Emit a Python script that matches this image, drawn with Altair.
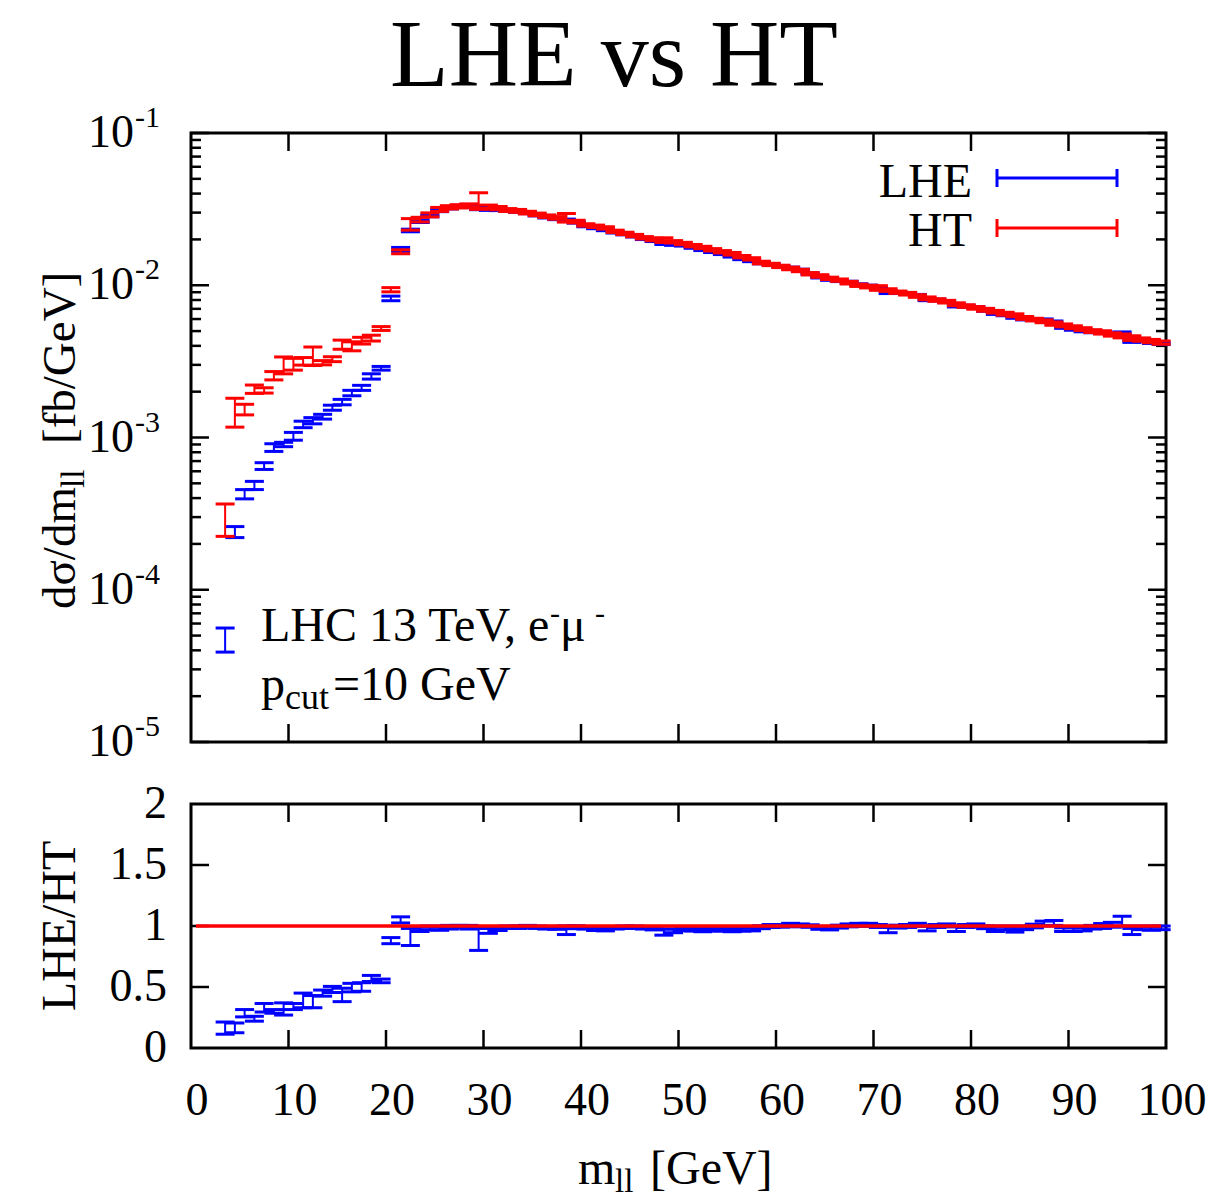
import altair as alt
import pandas as pd

# ---------------- data ----------------
m_ll = [b + 0.5 for b in range(3, 100)]  # bin centres 3.5 ... 99.5 GeV

ht = [2.95e-4, 1.49e-3, 1.53e-3, 2.08e-3, 2.04e-3, 2.55e-3, 3.0e-3, 3.04e-3, 3.17e-3, 3.45e-3,
      3.1e-3, 3.27e-3, 4.08e-3, 3.98e-3, 4.33e-3, 4.5e-3, 5.2e-3, 9.35e-3, 1.66e-2, 2.52e-2,
      2.7e-2, 2.9e-2, 3.15e-2, 3.25e-2, 3.3e-2, 3.35e-2, 3.6e-2, 3.28e-2, 3.21e-2, 3.12e-2,
      3.08e-2, 3.0e-2, 2.92e-2, 2.84e-2, 2.77e-2, 2.78e-2, 2.62e-2, 2.49e-2, 2.44e-2, 2.38e-2,
      2.26e-2, 2.19e-2, 2.12e-2, 2.05e-2, 2.0e-2, 1.98e-2, 1.93e-2, 1.88e-2, 1.82e-2, 1.77e-2,
      1.71e-2, 1.66e-2, 1.61e-2, 1.54e-2, 1.49e-2, 1.41e-2, 1.37e-2, 1.33e-2, 1.29e-2, 1.25e-2,
      1.19e-2, 1.15e-2, 1.11e-2, 1.08e-2, 1.04e-2, 1.0e-2, 9.8e-3, 9.6e-3, 9.3e-3, 9.0e-3,
      8.8e-3, 8.5e-3, 8.2e-3, 8.0e-3, 7.8e-3, 7.5e-3, 7.3e-3, 7.1e-3, 6.9e-3, 6.7e-3,
      6.5e-3, 6.35e-3, 6.1e-3, 5.95e-3, 5.8e-3, 5.6e-3, 5.45e-3, 5.3e-3, 5.15e-3, 5.0e-3,
      4.9e-3, 4.75e-3, 4.65e-3, 4.5e-3, 4.4e-3, 4.3e-3, 4.2e-3]
ht_relerr = [0.24, 0.215, 0.08, 0.063, 0.04, 0.063, 0.127, 0.089, 0.057, 0.139,
             0.032, 0.037, 0.069, 0.068, 0.051, 0.044, 0.029, 0.032, 0.03, 0.087,
             0.035, 0.03, 0.03, 0.025, 0.025, 0.022, 0.125, 0.025, 0.025, 0.022,
             0.022, 0.02, 0.02, 0.02, 0.02, 0.065, 0.02, 0.018, 0.018, 0.018,
             0.018, 0.018, 0.018, 0.018, 0.02, 0.035, 0.018, 0.018, 0.018, 0.018,
             0.018, 0.018, 0.02, 0.018, 0.018, 0.02, 0.018, 0.018, 0.02, 0.018,
             0.018, 0.02, 0.018, 0.018, 0.02, 0.018, 0.02, 0.035, 0.02, 0.018,
             0.02, 0.02, 0.022, 0.02, 0.02, 0.022, 0.02, 0.02, 0.022, 0.02,
             0.022, 0.022, 0.022, 0.02, 0.022, 0.025, 0.022, 0.022, 0.022, 0.022,
             0.025, 0.025, 0.03, 0.035, 0.025, 0.025, 0.025]

lhe = [4.75e-5, 2.4e-4, 4.25e-4, 4.85e-4, 6.5e-4, 8.6e-4, 9.0e-4, 1.02e-3, 1.22e-3, 1.29e-3,
       1.37e-3, 1.57e-3, 1.71e-3, 1.96e-3, 2.12e-3, 2.52e-3, 2.85e-3, 8.2e-3, 1.72e-2, 2.29e-2,
       2.63e-2, 2.86e-2, 3.09e-2, 3.22e-2, 3.28e-2, 3.32e-2, 3.2e-2, 3.15e-2, 3.13e-2, 3.09e-2,
       3.05e-2, 2.99e-2, 2.89e-2, 2.80e-2, 2.73e-2, 2.68e-2, 2.59e-2, 2.45e-2, 2.38e-2, 2.31e-2,
       2.23e-2, 2.17e-2, 2.10e-2, 2.02e-2, 1.96e-2, 1.88e-2, 1.85e-2, 1.83e-2, 1.77e-2, 1.71e-2,
       1.66e-2, 1.61e-2, 1.55e-2, 1.49e-2, 1.45e-2, 1.40e-2, 1.37e-2, 1.33e-2, 1.30e-2, 1.26e-2,
       1.19e-2, 1.13e-2, 1.09e-2, 1.07e-2, 1.05e-2, 1.01e-2, 9.9e-3, 9.6e-3, 9.0e-3, 8.95e-3,
       8.8e-3, 8.6e-3, 8.04e-3, 8.0e-3, 7.84e-3, 7.31e-3, 7.3e-3, 7.14e-3, 6.83e-3, 6.53e-3,
       6.40e-3, 6.16e-3, 6.01e-3, 5.95e-3, 5.92e-3, 5.74e-3, 5.29e-3, 5.14e-3, 5.02e-3, 4.95e-3,
       4.9e-3, 4.80e-3, 4.84e-3, 4.30e-3, 4.33e-3, 4.21e-3, 4.14e-3]
lhe_relerr = [0.18, 0.083, 0.07, 0.062, 0.051, 0.058, 0.033, 0.059, 0.049, 0.047,
              0.036, 0.038, 0.041, 0.041, 0.038, 0.04, 0.028, 0.035, 0.03, 0.02,
              0.018, 0.015, 0.015, 0.015, 0.012, 0.015, 0.02, 0.015, 0.012, 0.012,
              0.012, 0.012, 0.012, 0.012, 0.012, 0.015, 0.012, 0.012, 0.012, 0.012,
              0.012, 0.012, 0.012, 0.012, 0.012, 0.015, 0.012, 0.012, 0.012, 0.012,
              0.012, 0.012, 0.012, 0.012, 0.015, 0.012, 0.012, 0.012, 0.012, 0.012,
              0.012, 0.012, 0.012, 0.012, 0.012, 0.012, 0.012, 0.012, 0.02, 0.012,
              0.012, 0.012, 0.015, 0.012, 0.012, 0.015, 0.012, 0.012, 0.012, 0.015,
              0.015, 0.015, 0.015, 0.015, 0.015, 0.015, 0.015, 0.015, 0.015, 0.015,
              0.015, 0.015, 0.02, 0.02, 0.015, 0.015, 0.015]

ratio = [0.163, 0.165, 0.285, 0.24, 0.33, 0.30, 0.32, 0.34, 0.39, 0.38,
         0.45, 0.48, 0.435, 0.495, 0.50, 0.57, 0.55, 0.88, 1.05, 0.91,
         0.975, 0.985, 0.98, 0.99, 0.995, 0.99, 0.89, 0.96, 0.975, 0.99,
         0.99, 0.995, 0.99, 0.985, 0.985, 0.965, 0.99, 0.985, 0.975, 0.97,
         0.985, 0.99, 0.99, 0.985, 0.98, 0.95, 0.96, 0.975, 0.97, 0.965,
         0.97, 0.97, 0.965, 0.97, 0.975, 0.99, 1.0, 1.0, 1.01, 1.005,
         1.0, 0.985, 0.98, 0.995, 1.005, 1.01, 1.01, 1.0, 0.97, 0.995,
         1.0, 1.01, 0.98, 1.0, 1.005, 0.975, 1.0, 1.005, 0.99, 0.975,
         0.985, 0.97, 0.985, 1.0, 1.02, 1.025, 0.97, 0.97, 0.975, 0.99,
         1.0, 1.01, 1.04, 0.955, 0.985, 0.98, 0.985]
ratio_err = [0.05, 0.04, 0.03, 0.02, 0.035, 0.015, 0.05, 0.025, 0.06, 0.05,
             0.025, 0.025, 0.055, 0.035, 0.035, 0.025, 0.015, 0.025, 0.025, 0.07,
             0.02, 0.015, 0.015, 0.015, 0.01, 0.015, 0.09, 0.02, 0.012, 0.01,
             0.01, 0.01, 0.01, 0.01, 0.012, 0.035, 0.012, 0.01, 0.012, 0.01,
             0.01, 0.01, 0.01, 0.01, 0.012, 0.025, 0.015, 0.012, 0.012, 0.012,
             0.01, 0.012, 0.012, 0.012, 0.015, 0.012, 0.012, 0.01, 0.012, 0.012,
             0.01, 0.012, 0.012, 0.012, 0.012, 0.012, 0.012, 0.012, 0.025, 0.012,
             0.012, 0.012, 0.02, 0.012, 0.012, 0.02, 0.012, 0.012, 0.012, 0.02,
             0.015, 0.02, 0.015, 0.015, 0.02, 0.02, 0.015, 0.015, 0.015, 0.015,
             0.02, 0.02, 0.04, 0.025, 0.015, 0.015, 0.015]

x_ticks = [10, 20, 30, 40, 50, 60, 70, 80, 90]
x_labels = [0, 10, 20, 30, 40, 50, 60, 70, 80, 90, 100]
y_decades = [1e-1, 1e-2, 1e-3, 1e-4, 1e-5]
y_exponents = ["-1", "-2", "-3", "-4", "-5"]
r_ticks = [0.5, 1.0, 1.5]
r_labels = [0, 0.5, 1, 1.5, 2]
r_label_text = ["0", "0.5", "1", "1.5", "2"]

# ---------------- layout (pixels) ----------------
W = 975          # plot width
TOP_H = 609      # top panel height
R_TOP = 671      # ratio panel top (relative to plot origin)
R_BOT = 915      # ratio panel bottom
FONT = "Liberation Serif"
BLUE = "#0000ff"
RED = "#ff0000"

xs = alt.Scale(domain=[0, 100], nice=False, zero=False)
ys_top = alt.Scale(type="log", domain=[1e-5, 1e-1], range=[TOP_H, 0], nice=False)
ys_rat = alt.Scale(domain=[0, 2], range=[R_BOT, R_TOP], nice=False, zero=False)

def X(field):
    return alt.X(field, type="quantitative", scale=xs, axis=None)

def Y(field, sc):
    return alt.Y(field, type="quantitative", scale=sc, axis=None)

top_df = pd.DataFrame({
    "m": m_ll,
    "lhe_lo": [v * (1 - e) for v, e in zip(lhe, lhe_relerr)],
    "lhe_hi": [v * (1 + e) for v, e in zip(lhe, lhe_relerr)],
    "ht_lo": [v * (1 - e) for v, e in zip(ht, ht_relerr)],
    "ht_hi": [v * (1 + e) for v, e in zip(ht, ht_relerr)],
})
rat_df = pd.DataFrame({
    "m": m_ll,
    "lo": [v - e for v, e in zip(ratio, ratio_err)],
    "hi": [v + e for v, e in zip(ratio, ratio_err)],
})

def errbars(df, lo, hi, color, sc):
    base = alt.Chart(df)
    rule = base.mark_rule(color=color, strokeWidth=2).encode(
        x=X("m"), y=Y(lo, sc), y2=alt.Y2(hi))
    c1 = base.mark_tick(color=color, orient="horizontal", size=19, thickness=3, opacity=1).encode(
        x=X("m"), y=Y(lo, sc))
    c2 = base.mark_tick(color=color, orient="horizontal", size=19, thickness=3, opacity=1).encode(
        x=X("m"), y=Y(hi, sc))
    return [rule, c1, c2]

def txt(s, x, y, size, align="left", baseline="alphabetic", angle=0, color="black"):
    return alt.Chart(pd.DataFrame({"t": [s]})).mark_text(
        font=FONT, fontSize=size, align=align, baseline=baseline, angle=angle, color=color
    ).encode(x=alt.value(x), y=alt.value(y), text="t:N")

def prule(x1, x2, y1, y2, color, w):
    return alt.Chart(pd.DataFrame({"a": [0]})).mark_rule(color=color, strokeWidth=w).encode(
        x=alt.value(x1), x2=alt.value(x2), y=alt.value(y1), y2=alt.value(y2))

# ---------------- top panel ----------------
frame_top = alt.Chart(pd.DataFrame({"x0": [0], "x1": [100], "y0": [1e-5], "y1": [1e-1]})).mark_rect(
    filled=False, stroke="black", strokeWidth=3).encode(
    x=X("x0"), x2="x1", y=Y("y0", ys_top), y2="y1")

xt_df = pd.DataFrame({"v": x_ticks})
xt_top = [
    alt.Chart(xt_df).mark_rule(color="black", strokeWidth=2.5).encode(x=X("v"), y=alt.value(0), y2=alt.value(18)),
    alt.Chart(xt_df).mark_rule(color="black", strokeWidth=2.5).encode(x=X("v"), y=alt.value(TOP_H - 18), y2=alt.value(TOP_H)),
]
minor_vals = [k * d for d in [1e-5, 1e-4, 1e-3, 1e-2] for k in range(2, 10)]
maj_df = pd.DataFrame({"v": y_decades})
min_df = pd.DataFrame({"v": minor_vals})
yt_top = []
for dfv, ln in [(maj_df, 18), (min_df, 10)]:
    yt_top.append(alt.Chart(dfv).mark_rule(color="black", strokeWidth=2.5).encode(
        y=Y("v", ys_top), x=alt.value(0), x2=alt.value(ln)))
    yt_top.append(alt.Chart(dfv).mark_rule(color="black", strokeWidth=2.5).encode(
        y=Y("v", ys_top), x=alt.value(W - ln), x2=alt.value(W)))

ylab_df = pd.DataFrame({"v": y_decades, "e": y_exponents, "b": ["10"] * 5})
ylabels = [
    alt.Chart(ylab_df).mark_text(font=FONT, fontSize=46, align="right", baseline="middle").encode(
        y=Y("v", ys_top), x=alt.value(-57), text="b:N"),
    alt.Chart(ylab_df).mark_text(font=FONT, fontSize=30, align="left", baseline="middle", dy=-15).encode(
        y=Y("v", ys_top), x=alt.value(-56), text="e:N"),
]

legend = [
    txt("LHE", 781, 64, 48, align="right"),
    prule(806, 926, 45, 45, BLUE, 3),
    prule(806, 806, 36, 54, BLUE, 3),
    prule(926, 926, 36, 54, BLUE, 3),
    txt("HT", 781, 113, 48, align="right"),
    prule(806, 926, 95, 95, RED, 3),
    prule(806, 806, 86, 104, RED, 3),
    prule(926, 926, 86, 104, RED, 3),
]

annot = [
    txt("LHC 13 TeV, e", 70, 508, 48),
    txt("-", 359, 490, 30),
    txt("μ", 369, 508, 48),
    txt("-", 404, 490, 30),
    txt("p", 70, 567, 48),
    txt("cut", 94, 576, 36),
    txt("=10 GeV", 142, 567, 48),
]

ytitle_top = [
    txt("dσ/dm", -116, 476, 47, angle=270),
    txt("ll", -107, 355, 33, angle=270),
    txt("[fb/GeV]", -116, 311, 47, angle=270),
]

title = [txt("LHE vs HT", 423, -47, 96, align="center")]

top_group = alt.layer(
    frame_top, *xt_top, *yt_top,
    *errbars(top_df, "lhe_lo", "lhe_hi", BLUE, ys_top),
    *errbars(top_df, "ht_lo", "ht_hi", RED, ys_top),
    *ylabels, *legend, *annot, *ytitle_top, *title,
)

# ---------------- ratio panel ----------------
frame_rat = alt.Chart(pd.DataFrame({"x0": [0], "x1": [100], "y0": [0.0], "y1": [2.0]})).mark_rect(
    filled=False, stroke="black", strokeWidth=3).encode(
    x=X("x0"), x2="x1", y=Y("y0", ys_rat), y2="y1")
xt_rat = [
    alt.Chart(xt_df).mark_rule(color="black", strokeWidth=2.5).encode(x=X("v"), y=alt.value(R_TOP), y2=alt.value(R_TOP + 18)),
    alt.Chart(xt_df).mark_rule(color="black", strokeWidth=2.5).encode(x=X("v"), y=alt.value(R_BOT - 18), y2=alt.value(R_BOT)),
]
rt_df = pd.DataFrame({"v": r_ticks})
yt_rat = [
    alt.Chart(rt_df).mark_rule(color="black", strokeWidth=2.5).encode(y=Y("v", ys_rat), x=alt.value(0), x2=alt.value(18)),
    alt.Chart(rt_df).mark_rule(color="black", strokeWidth=2.5).encode(y=Y("v", ys_rat), x=alt.value(W - 18), x2=alt.value(W)),
]
rlab_df = pd.DataFrame({"v": r_labels, "t": r_label_text})
rlabels = [alt.Chart(rlab_df).mark_text(font=FONT, fontSize=46, align="right", baseline="middle").encode(
    y=Y("v", ys_rat), x=alt.value(-24), text="t:N")]
xlab_df = pd.DataFrame({"v": x_labels, "t": [str(v) for v in x_labels]})
xlabels = [alt.Chart(xlab_df).mark_text(font=FONT, fontSize=46, align="center", baseline="alphabetic", dx=6).encode(
    x=X("v"), y=alt.value(982), text="t:N")]
one_df = pd.DataFrame({"x0": [0.5], "x1": [99.5], "y": [1.0]})
red_line = alt.Chart(one_df).mark_rule(color=RED, strokeWidth=3.5).encode(
    x=X("x0"), x2="x1", y=Y("y", ys_rat))

xtitle = [
    txt("m", 387, 1051, 48),
    txt("ll", 424, 1059, 33),
    txt("[GeV]", 459, 1051, 48),
]
ytitle_rat = [txt("LHE/HT", -116, 793, 48, align="center", angle=270)]

rat_group = alt.layer(
    frame_rat, *xt_rat, *yt_rat,
    *errbars(rat_df, "lo", "hi", BLUE, ys_rat),
    red_line, *rlabels, *xlabels, *xtitle, *ytitle_rat,
)

chart = alt.layer(top_group, rat_group).resolve_scale(y="independent").properties(
    width=W, height=R_BOT,
    autosize=alt.AutoSizeParams(type="none"),
    padding={"left": 191, "top": 133, "right": 43, "bottom": 155},
).configure_view(stroke=None)

chart.save("out.html", embed_options={"renderer": "svg", "actions": False})
